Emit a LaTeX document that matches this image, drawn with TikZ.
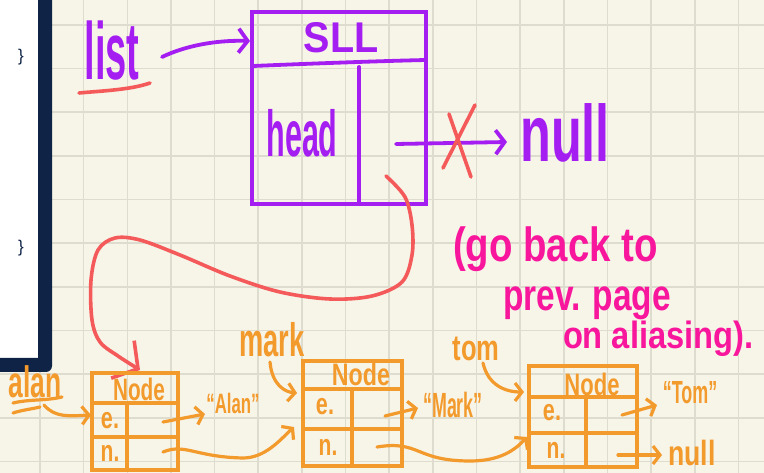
\documentclass[tikz,border=0pt]{standalone}
\usepackage{fontspec}
\usepackage{graphicx}
\setmainfont{Liberation Sans}
\usetikzlibrary{arrows.meta}
\definecolor{paper}{HTML}{F7F4E8}
\definecolor{gridc}{HTML}{DEDBCF}
\definecolor{navy}{HTML}{0E2346}
\definecolor{purp}{HTML}{A41EF2}
\definecolor{coral}{HTML}{F45A5A}
\definecolor{pinkc}{HTML}{F8169C}
\definecolor{orng}{HTML}{F39A2C}
\newcommand\hw[3]{\scalebox{#1}[1]{\fontsize{#2pt}{#2pt}\selectfont\bfseries #3}}
\begin{document}
\begin{tikzpicture}[x=1pt,y=-1pt,
  pen/.style={line width=#1, line cap=round, line join=round},
  ppen/.style={pen=3.8pt, draw=purp},
  rpen/.style={pen=3.6pt, draw=coral},
  open/.style={pen=3.2pt, draw=orng},
  ptip/.style={-{Straight Barb[length=9pt,width=24pt]}},
  rtip/.style={-{Straight Barb[length=18pt,width=44pt]}},
  otip/.style={-{Straight Barb[length=7pt,width=18pt]}},
  lbl/.style={inner sep=0pt, outer sep=0pt},
  obox/.style={draw=orng, line width=3.2pt, inner sep=0pt, outer sep=0pt},
  ptext/.style={lbl, text=purp},
  otext/.style={lbl, text=orng},
  ktext/.style={lbl, text=pinkc, anchor=base west}]
\useasboundingbox (0,0) rectangle (764,473);
\fill[paper] (0,0) rectangle (764,473);
\foreach \i in {0,...,16} \draw[gridc, line width=1.6pt] ({40+43.65*\i},0) -- ({40+43.65*\i},473);
\foreach \j in {0,...,10} \draw[gridc, line width=1.6pt] (0,{25+43.65*\j}) -- (764,{25+43.65*\j});
% left panel
\fill[white] (0,0) rectangle (38,358);
\fill[navy] (38,-5) -- (52,-5) {[rounded corners=6pt] -- (52,372) -- (-5,372)} -- (-5,358) -- (38,358) -- cycle;
\node[lbl, text=navy] (br1) at (21,57) {\fontsize{17pt}{17pt}\selectfont\}};
\node[lbl, text=navy] (br2) at (21,248) {\fontsize{17pt}{17pt}\selectfont\}};
% SLL box
\node[draw=purp, line width=3.8pt, inner sep=0pt, outer sep=0pt, minimum width=174pt, minimum height=192pt] (sll) at (339,108) {};
\draw[ppen] (253,66) .. controls (300,64) and (380,61) .. (426,60);
\draw[ppen] (359,67) -- (359,204);
\node[ptext] (slltitle) at (341,38) {\hw{0.92}{43}{SLL}};
\node[ptext] (head) at (302,133) {\hw{0.47}{65}{head}};
\node[ptext] (list) at (112,51) {\hw{0.47}{81}{list}};
\node[ptext] (null1) at (565,133) {\hw{0.63}{80}{null}};
\draw[rpen] (79,93) .. controls (100,91) and (130,90) .. (150,83);
\coordinate (listout) at (162,57);
\coordinate (sllin) at (250,41);
\draw[ppen, ptip] (listout) .. controls (185,46) and (215,40) .. (sllin);
\coordinate (hp) at (396,144);
\coordinate (nullin) at (507,142);
\draw[ppen, ptip] (hp) -- (nullin);
\draw[rpen] (449,114) -- (471,177);
\draw[rpen] (475,105) -- (443,168);
% red reassignment curve
\coordinate (hn) at (386,176);
\draw[rpen, rtip] plot[smooth, tension=0.55] coordinates {(386,176) (405,197) (412,225) (412,255) (402,282) (372,296) (330,299) (280,292) (230,276) (180,255) (140,240) (115,238) (98,250) (91,280) (92,320) (100,342) (118,356) (140,370)};
% pink note
\node[ktext] (pk1) at (453,262) {\hw{0.8}{48}{(go back to}};
\node[ktext] (pk2) at (503,311) {\hw{0.76}{44}{prev. page}};
\node[ktext] (pk3) at (563,349) {\hw{0.86}{38}{on aliasing).}};
% nodes
\node[obox, minimum width=86pt, minimum height=97pt] (n1) at (135,421.5) {};
\draw[open] (92,403) -- (178,403);
\draw[open] (92,437) -- (178,437);
\draw[open] (127,403) -- (127,470);
\node[obox, minimum width=99pt, minimum height=105pt] (n2) at (352.5,413.5) {};
\draw[open] (303,389) -- (402,389);
\draw[open] (303,429) -- (402,429);
\draw[open] (352,389) -- (352,466);
\node[obox, minimum width=108pt, minimum height=101pt] (n3) at (583,416.5) {};
\draw[open] (529,397) -- (637,397);
\draw[open] (529,433) -- (637,433);
\draw[open] (586,397) -- (586,467);
\node[otext] (t1) at (139,389) {\hw{0.67}{31}{Node}};
\node[otext] (t2) at (361,374) {\hw{0.75}{31}{Node}};
\node[otext] (t3) at (592,384) {\hw{0.71}{31}{Node}};
\node[otext] (e1) at (110,421) {\hw{0.72}{30}{e.}};
\node[otext] (m1) at (110,453) {\hw{0.7}{30}{n.}};
\node[otext] (e2) at (325,407) {\hw{0.72}{30}{e.}};
\node[otext] (m2) at (328,447) {\hw{0.7}{30}{n.}};
\node[otext] (e3) at (552,413) {\hw{0.72}{30}{e.}};
\node[otext] (m3) at (556,450) {\hw{0.7}{30}{n.}};
% labels
\node[otext] (alan) at (35,382) {\hw{0.6}{44}{alan}};
\node[otext] (mark) at (272,340) {\hw{0.58}{47}{mark}};
\node[otext] (tom) at (476,349) {\hw{0.71}{36}{tom}};
\draw[open] (13,403) .. controls (30,399) and (45,401) .. (62,397);
\draw[open] (13,413) .. controls (22,410) and (32,409) .. (40,407);
\node[otext] (sAlan) at (233,403) {\hw{0.6}{28}{“Alan”}};
\node[otext] (sMark) at (453,405) {\hw{0.51}{35}{“Mark”}};
\node[otext] (sTom) at (690,393) {\hw{0.56}{32}{“Tom”}};
\node[otext] (null2) at (692,453) {\hw{0.76}{35}{null}};
% orange connectors
\coordinate (alanout) at (44,405);
\coordinate (n1e) at (91,415);
\draw[open, otip] (alanout) .. controls (55,418) and (70,416) .. (n1e);
\coordinate (n1ep) at (163,422);
\coordinate (sAlanin) at (205,414);
\draw[open, otip] (n1ep) -- (sAlanin);
\coordinate (n1np) at (163,452);
\coordinate (n2in) at (294,427);
\draw[open, otip] (n1np) .. controls (185,443) and (195,457) .. (243,458) .. controls (265,458) and (280,440) .. (n2in);
\coordinate (markout) at (270,362);
\coordinate (n2e) at (297,393);
\draw[open, otip] (markout) .. controls (272,385) and (285,392) .. (n2e);
\coordinate (n2ep) at (385,416);
\coordinate (sMarkin) at (418,408);
\draw[open, otip] (n2ep) -- (sMarkin);
\coordinate (n2np) at (377,447);
\coordinate (n3in) at (527,437);
\draw[open, otip] (n2np) .. controls (420,440) and (415,461) .. (470,461) .. controls (500,461) and (515,450) .. (n3in);
\coordinate (tomout) at (483,363);
\coordinate (n3e) at (524,392);
\draw[open, otip] (tomout) .. controls (488,385) and (505,392) .. (n3e);
\coordinate (n3ep) at (622,415);
\coordinate (sTomin) at (657,405);
\draw[open, otip] (n3ep) -- (sTomin);
\coordinate (n3np) at (618,455);
\coordinate (null2in) at (662,455);
\draw[open, otip] (n3np) -- (null2in);
\end{tikzpicture}
\end{document}
